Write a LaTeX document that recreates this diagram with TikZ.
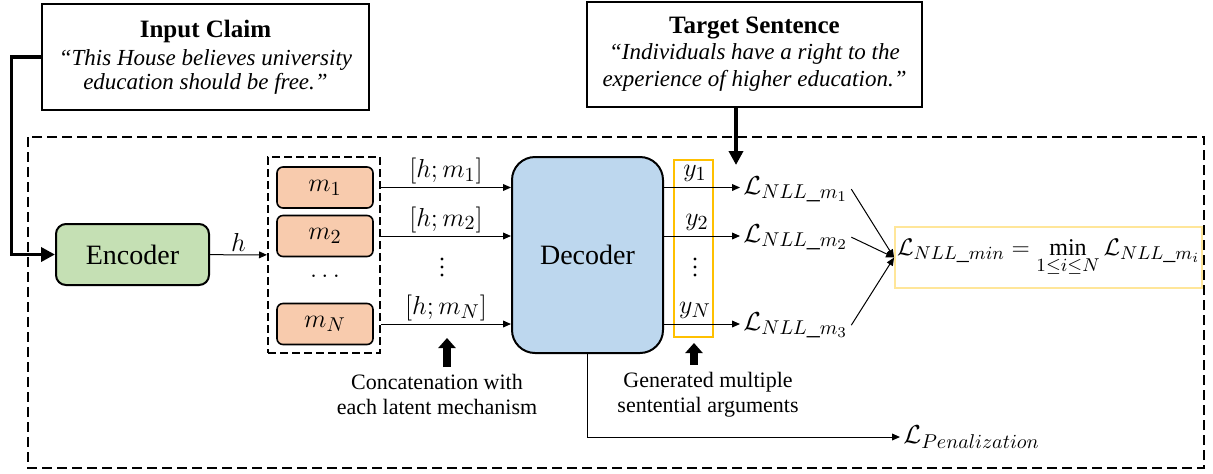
\documentclass[tikz,border=0pt]{standalone}
\usepackage{fix-cm}
\usepackage{fontspec}
\setmainfont{Liberation Serif}
\usetikzlibrary{
  positioning,
  arrows.meta
}
\DeclareMathSizes{13}{13}{10}{7.5}
\DeclareMathSizes{12}{12}{9.3}{7}
\definecolor{encfill}{HTML}{C5E0B4}
\definecolor{mechfill}{HTML}{F8CBAD}
\definecolor{decfill}{HTML}{BDD7EE}
\definecolor{outorange}{HTML}{FFC000}
\definecolor{minyellow}{HTML}{FFE699}
\tikzset{
  quotebox/.style={draw=black,line width=0.7pt,align=center,inner sep=0pt,
    font=\fontsize{11.5}{12}\selectfont},
  mechbox/.style={draw=black,line width=0.8pt,fill=mechfill,rounded corners=3pt,
    minimum width=48pt,minimum height=20.5pt,inner sep=0pt},
  mathlab/.style={font=\fontsize{13}{15}\selectfont,inner sep=1.5pt},
  link/.style={-{Triangle[length=4pt,width=3.4pt]},line width=0.5pt},
  feed/.style={-{Triangle[length=7pt,width=7pt]},line width=1.8pt},
  hint/.style={-{Triangle[length=5pt,width=8.5pt]},line width=4pt},
  caption/.style={align=center,font=\fontsize{11}{12.5}\selectfont}
}
\begin{document}
\begin{tikzpicture}[x=0.5pt,y=-0.5pt]
\useasboundingbox (0,0) rectangle (1213,473);
\draw[dash pattern=on 5pt off 2.5pt,line width=0.65pt] (28,137) rectangle (1204,468);

\node[quotebox,minimum width=163.5pt,minimum height=53pt] (claim) at (205.5,57)
  {{\fontsize{12.5}{14}\selectfont\bfseries Input Claim}\\[2pt]
   \textit{“This House believes university}\\
   \textit{education should be free.”}};
\node[quotebox,minimum width=167.5pt,minimum height=52.5pt] (target) at (754.5,54.5)
  {{\fontsize{12.5}{14}\selectfont\bfseries Target Sentence}\\[1pt]
   \textit{“Individuals have a right to the}\\[1.5pt]
   \textit{experience of higher education.”}};

\node[draw=black,line width=1pt,fill=encfill,rounded corners=5pt,minimum width=76.5pt,
  minimum height=30.5pt,font=\fontsize{14}{16}\selectfont] (encoder) at (132.5,254.5) {Encoder};
\node[draw=black,line width=1pt,dash pattern=on 4pt off 2pt,minimum width=56pt,
  minimum height=98pt] (mechs) at (324,255) {};
\node[mechbox,mathlab] (m1) at (325,187.5) {$m_1$};
\node[mechbox,mathlab] (m2) at (325,236) {$m_2$};
\node[mechbox,mathlab] (mN) at (325,324) {$m_N$};
\node[mathlab,inner sep=0pt] (mdots) at (325,276) {$\dots$};
\node[draw=black,line width=1pt,fill=decfill,rounded corners=11.5pt,minimum width=75.5pt,
  minimum height=98pt,font=\fontsize{14}{16}\selectfont] (decoder) at (587.5,255) {Decoder};

\node[draw=outorange,line width=1.2pt,minimum width=19.5pt,minimum height=88.5pt] (yframe) at (693.5,248.5) {};
\node[mathlab] (y1) at (695,173) {$y_1$};
\node[mathlab] (y2) at (697,222) {$y_2$};
\node[mathlab] (yN) at (695,310) {$y_N$};

\node[mathlab,anchor=base west] (lm1) at (740,194) {$\mathcal{L}_{NLL\_m_1}$};
\node[mathlab,anchor=base west] (lm2) at (740,242) {$\mathcal{L}_{NLL\_m_2}$};
\node[mathlab,anchor=base west] (lm3) at (740,330) {$\mathcal{L}_{NLL\_m_3}$};
\node[draw=minyellow,line width=1pt,minimum width=150.5pt,minimum height=30.5pt,inner sep=1pt,
  font=\fontsize{12}{14}\selectfont] (lmin) at (1048.5,257.5)
  {$\displaystyle\mathcal{L}_{NLL\_min}=\min_{1\le i\le N}\mathcal{L}_{NLL\_m_i}$};
\node[mathlab,anchor=west] (lpen) at (900,437) {$\mathcal{L}_{Penalization}$};

\node[caption] (concat) at (437,394.5) {Concatenation with\\each latent mechanism};
\node[caption] (gen) at (708,394.5) {Generated multiple\\sentential arguments};
\coordinate (upA) at (447,338);
\coordinate (upB) at (694,343);
\coordinate (tgtend) at (736,165);

\foreach \d in {-8,0,8} {
  \fill (442,267+\d) circle (0.85pt);
  \fill (695,267+\d) circle (0.85pt);
}

\draw[feed] (claim.west) -- ++(-30,0) |- (encoder.west);
\draw[feed] (tgtend |- target.south) -- (tgtend);
\draw[link] (encoder) -- (mechs) node[midway,above,mathlab] {$h$};
\foreach \m/\lab in {m1/{[h;m_1]},m2/{[h;m_2]},mN/{[h;m_N]}}
  \draw[link] (mechs.east |- \m) -- (decoder.west |- \m) node[midway,above,mathlab] {$\lab$};
\draw[link] (decoder.east |- m1) -- (lm1.west |- m1);
\draw[link] (decoder.east |- m2) -- (lm2.west |- m2);
\draw[link] (decoder.east |- mN) -- (lm3.west |- mN);
\foreach \l in {lm1,lm2,lm3}
  \draw[link] (\l.east) -- (lmin.west);
\draw[link] (decoder.south) |- (lpen.west);
\draw[hint] (concat.north -| upA) -- (upA);
\draw[hint] (gen.north -| upB) -- (upB);
\end{tikzpicture}
\end{document}
